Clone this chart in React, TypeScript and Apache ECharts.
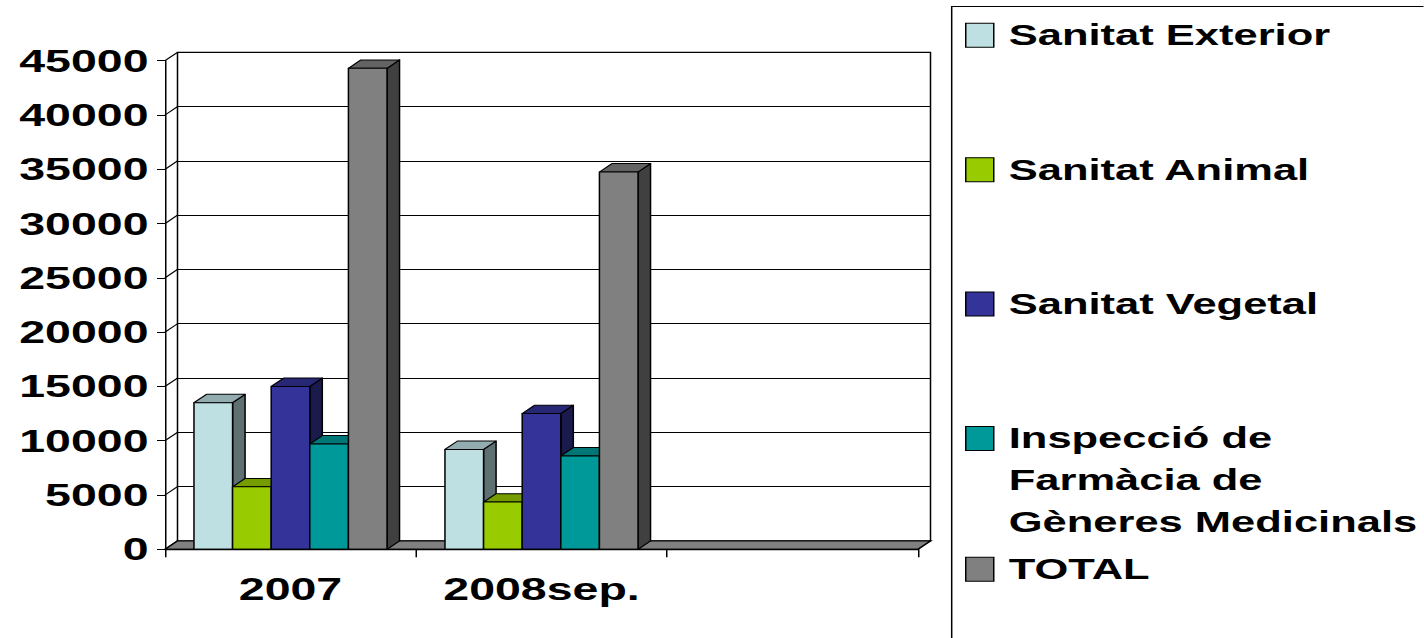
import React, { useEffect, useRef } from 'react';
import * as echarts from 'echarts';

// ---------- data ----------
const categories = ['2007', '2008sep.', ''];
const seriesNames = [
  'Sanitat Exterior',
  'Sanitat Animal',
  'Sanitat Vegetal',
  'Inspecció de Farmàcia de Gèneres Medicinals',
  'TOTAL',
];
const farmaciaLegendLines = ['Inspecció de', 'Farmàcia de', 'Gèneres Medicinals'];

const sanitatExterior = [13500, 9200];
const sanitatAnimal = [5750, 4350];
const sanitatVegetal = [15000, 12500];
const farmacia = [9700, 8600];
const total = [44300, 34750];

const yTicks = [0, 5000, 10000, 15000, 20000, 25000, 30000, 35000, 40000, 45000];

// ---------- styles ----------
const FRONT = ['#BEE0E3', '#99CC00', '#333399', '#009999', '#808080'];
const FONT = '"Liberation Sans", Arial, sans-serif';
const STRETCH = 1.5;
const CHART_W = 1424 / STRETCH;
const sx = (v: number) => v / STRETCH;
const DX = sx(12.5);
const DY = -8.4;
const LEGEND_CENTERS = [35.3, 169.7, 304, 438.5, 569.2];

function shade(hex: string, f: number) {
  const n = parseInt(hex.slice(1), 16);
  const r = Math.round(((n >> 16) & 255) * f);
  const g = Math.round(((n >> 8) & 255) * f);
  const b = Math.round((n & 255) * f);
  return `rgb(${r},${g},${b})`;
}

const seriesValues = [sanitatExterior, sanitatAnimal, sanitatVegetal, farmacia, total];

function buildOption() {
  const barSeries = seriesValues.map((vals, s) => {
    const front = FRONT[s];
    const topC = shade(front, 0.77);
    const sideC = shade(front, 0.5);
    return {
      type: 'custom',
      name: seriesNames[s],
      xAxisIndex: 0,
      yAxisIndex: 0,
      z: 5,
      silent: true,
      itemStyle: { color: front, borderColor: '#000', borderWidth: 1 },
      encode: { x: 0, y: 1 },
      data: vals.map((v, i) => [i, v]),
      renderItem: (params: any, api: any) => {
        const i = api.value(0);
        const v = api.value(1);
        const base = api.coord([i, 0]);
        const top = api.coord([i, v]);
        const catW = api.size([1, 0])[0];
        const bw = catW / 6.5;
        const x0 = base[0] - 2.5 * bw + s * bw;
        const x1 = x0 + bw;
        const yt = top[1];
        const yb = base[1];
        const st = { stroke: '#000', lineWidth: 1, lineJoin: 'round' };
        return {
          type: 'group',
          children: [
            {
              type: 'polygon',
              shape: { points: [[x1, yt], [x1 + DX, yt + DY], [x1 + DX, yb + DY], [x1, yb]] },
              style: { ...st, fill: sideC },
            },
            {
              type: 'polygon',
              shape: { points: [[x0, yt], [x1, yt], [x1 + DX, yt + DY], [x0 + DX, yt + DY]] },
              style: { ...st, fill: topC },
            },
            {
              type: 'rect',
              shape: { x: x0, y: yt, width: bw, height: yb - yt },
              style: { ...st, fill: front },
            },
          ],
        };
      },
    };
  });

  const wallSeries = {
    type: 'custom',
    name: 'leftWall',
    xAxisIndex: 0,
    yAxisIndex: 0,
    z: 2,
    silent: true,
    encode: { x: 0, y: 1 },
    data: yTicks.map((v) => [0, v]),
    renderItem: (params: any, api: any) => {
      const cs = params.coordSys;
      const y = api.coord([0, api.value(1)])[1];
      return {
        type: 'line',
        shape: { x1: cs.x, y1: y, x2: cs.x + DX, y2: y + DY },
        style: { stroke: '#000', lineWidth: 1 },
      };
    },
  };

  const floorSeries = {
    type: 'custom',
    name: 'floor',
    xAxisIndex: 0,
    yAxisIndex: 0,
    z: 3,
    silent: true,
    encode: { x: 0, y: 1 },
    data: [[0, 0]],
    renderItem: (params: any, api: any) => {
      const cs = params.coordSys;
      const y0 = api.coord([0, 0])[1];
      return {
        type: 'polygon',
        shape: {
          points: [
            [cs.x, y0],
            [cs.x + cs.width, y0],
            [cs.x + cs.width + DX, y0 + DY],
            [cs.x + DX, y0 + DY],
          ],
        },
        style: { fill: '#808080', stroke: '#000', lineWidth: 1.3 },
      };
    },
  };

  const axisLabelStyle = {
    fontFamily: FONT,
    fontWeight: 'bold',
    fontSize: 31,
    color: '#000',
  };

  const legends = seriesNames.map((name, k) => {
    const multi = k === 3;
    const c = LEGEND_CENTERS[k];
    return {
      data: [name],
      orient: 'vertical',
      left: sx(965),
      top: multi ? c - 105 : c - 21,
      padding: 0,
      itemGap: 0,
      icon: 'rect',
      itemWidth: sx(28),
      itemHeight: 24,
      selectedMode: false,
      itemStyle: { borderColor: '#000', borderWidth: 1 },
      // the multi-line entry keeps its first line level with the key (as in Excel)
      formatter: (n: string) => (multi ? '\n\n' + farmaciaLegendLines.join('\n') : n),
      textStyle: {
        fontFamily: FONT,
        fontWeight: 'bold',
        fontSize: 29,
        color: '#000',
        lineHeight: 42,
        padding: [0, 0, 0, 5],
      },
    };
  });

  return {
    animation: false,
    backgroundColor: '#fff',
    grid: [
      { left: sx(165), top: 60.7, width: sx(753), height: 488.6, show: false },
      {
        left: sx(177.5),
        top: 52.3,
        width: sx(753),
        height: 488.6,
        show: true,
        borderColor: '#000',
        borderWidth: 1,
        backgroundColor: 'transparent',
      },
    ],
    xAxis: [
      {
        type: 'category',
        gridIndex: 0,
        data: categories,
        axisLine: { show: true, lineStyle: { color: '#000', width: 1.3 } },
        axisTick: { show: true, length: 8, lineStyle: { color: '#000', width: 1 } },
        axisLabel: { ...axisLabelStyle, margin: 24, interval: 0 },
        splitLine: { show: false },
        z: 6,
      },
      { type: 'category', gridIndex: 1, data: categories, show: false },
    ],
    yAxis: [
      {
        type: 'value',
        gridIndex: 0,
        min: 0,
        max: 45000,
        interval: 5000,
        axisLine: { show: true, lineStyle: { color: '#000', width: 1 } },
        axisTick: { show: true, length: sx(8), lineStyle: { color: '#000', width: 1 } },
        axisLabel: { ...axisLabelStyle, margin: 11, formatter: (v: number) => String(v) },
        splitLine: { show: false },
      },
      {
        type: 'value',
        gridIndex: 1,
        min: 0,
        max: 45000,
        interval: 5000,
        axisLine: { show: false },
        axisTick: { show: false },
        axisLabel: { show: false },
        splitLine: { show: true, lineStyle: { color: '#000', width: 1 } },
      },
    ],
    legend: legends,
    graphic: [
      {
        type: 'rect',
        shape: { x: sx(951.7), y: 6.5, width: 400, height: 700 },
        style: { fill: 'none', stroke: '#000', lineWidth: 1 },
        silent: true,
      },
    ],
    series: [wallSeries, floorSeries, ...barSeries],
  };
}

export default function App() {
  const ref = useRef<HTMLDivElement>(null);
  useEffect(() => {
    const chart = echarts.init(ref.current as HTMLDivElement, null, { renderer: 'svg' });
    chart.setOption(buildOption() as any);
    return () => chart.dispose();
  }, []);
  return (
    <div
      style={{
        position: 'absolute',
        left: 0,
        top: 0,
        width: 1424,
        height: 638,
        overflow: 'hidden',
        background: '#fff',
      }}
    >
      <div
        ref={ref}
        style={{
          width: CHART_W,
          height: 638,
          transform: `scaleX(${STRETCH})`,
          transformOrigin: '0 0',
        }}
      />
    </div>
  );
}
